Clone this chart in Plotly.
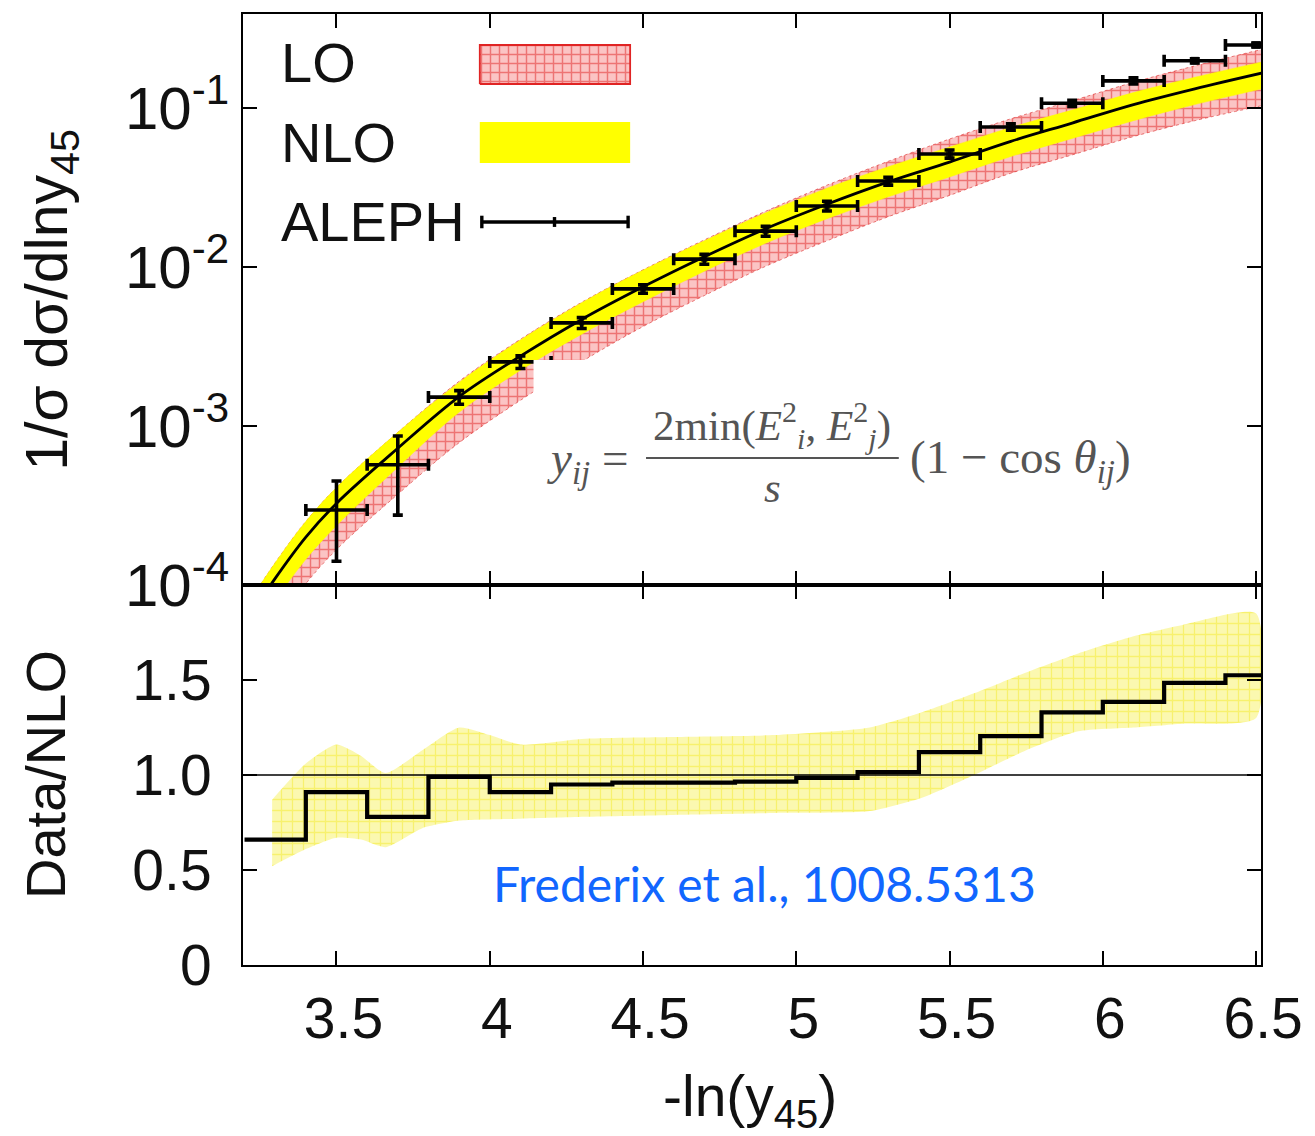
import plotly.graph_objects as go

# ---------------- data ----------------
# ALEPH data points
aleph_x = [3.5, 3.7, 3.9, 4.1, 4.3, 4.5, 4.7, 4.9, 5.1, 5.3, 5.5, 5.7, 5.9, 6.1, 6.3, 6.5]
aleph_y = [2.96e-4, 5.7e-4, 1.52e-3, 2.53e-3, 4.45e-3, 7.28e-3, 1.12e-2, 1.68e-2,
           2.42e-2, 3.47e-2, 5.14e-2, 7.6e-2, 0.107, 0.148, 0.198, 0.249]
aleph_yerr = [1.55e-4, 2.95e-4, 1.5e-4, 2.3e-4, 3.5e-4, 4.4e-4, 8e-4, 1.2e-3,
              1.7e-3, 2.0e-3, 3.0e-3, 3.4e-3, 4.7e-3, 6.6e-3, 6.0e-3, 7.0e-3]
aleph_xerr = [0.1, 0.1, 0.1, 0.1, 0.1, 0.1, 0.1, 0.1,
              0.1, 0.1, 0.1, 0.1, 0.1, 0.1, 0.1, 0.1]

# theory curves (top panel)
theory_x = [3.2, 3.3, 3.4, 3.5, 3.7, 3.9, 4.1, 4.3, 4.5, 4.7, 4.9, 5.1, 5.3, 5.5,
            5.7, 5.9, 6.1, 6.3, 6.52]
nlo_central = [5.62e-5, 1.10e-4, 2.00e-4, 3.26e-4, 7.24e-4, 1.53e-3, 2.75e-3, 4.68e-3,
               7.50e-3, 1.16e-2, 1.74e-2, 2.48e-2, 3.43e-2, 4.57e-2, 6.17e-2, 8.04e-2,
               0.105, 0.132, 0.166]
nlo_upper = [7.08e-5, 1.38e-4, 2.51e-4, 4.10e-4, 9.12e-4, 1.88e-3, 3.47e-3, 5.96e-3,
             9.55e-3, 1.46e-2, 2.19e-2, 3.13e-2, 4.27e-2, 5.68e-2, 7.55e-2, 9.70e-2,
             0.125, 0.156, 0.195]
nlo_lower = [4.07e-5, 7.94e-5, 1.45e-4, 2.36e-4, 5.50e-4, 1.22e-3, 2.24e-3, 3.78e-3,
             6.04e-3, 9.40e-3, 1.41e-2, 2.01e-2, 2.76e-2, 3.68e-2, 4.95e-2, 6.43e-2,
             8.32e-2, 0.105, 0.132]
lo_upper = [7.08e-5, 1.38e-4, 2.51e-4, 4.10e-4, 9.12e-4, 1.91e-3, 3.51e-3, 6.00e-3,
            9.59e-3, 1.48e-2, 2.24e-2, 3.27e-2, 4.62e-2, 6.38e-2, 8.55e-2, 0.111,
            0.145, 0.184, 0.234]
lo_lower = [2.88e-5, 5.62e-5, 1.02e-4, 1.67e-4, 3.72e-4, 7.85e-4, 1.45e-3, 2.54e-3,
            4.22e-3, 6.61e-3, 1.01e-2, 1.46e-2, 2.07e-2, 2.82e-2, 3.89e-2, 5.07e-2,
            6.61e-2, 8.32e-2, 0.1035]

# ratio panel: Data/NLO step histogram (bin left edges, last edge repeated)
ratio_edges = [3.2, 3.4, 3.6, 3.8, 4.0, 4.2, 4.4, 4.6, 4.8, 5.0, 5.2, 5.4, 5.6,
               5.8, 6.0, 6.2, 6.4, 6.6]
ratio_vals = [0.66, 0.91, 0.78, 0.99, 0.91, 0.95, 0.96, 0.96, 0.965, 0.985, 1.015,
              1.12, 1.205, 1.33, 1.385, 1.485, 1.525, 1.525]

# ratio panel: uncertainty band edges
band_hi_x = [3.29, 3.40, 3.50, 3.58, 3.66, 3.78, 3.90, 4.00, 4.10, 4.30, 4.60, 4.93,
             5.24, 5.41, 5.58, 5.75, 5.92, 6.10, 6.26, 6.50]
band_hi = [0.87, 1.06, 1.16, 1.10, 1.01, 1.13, 1.25, 1.21, 1.16, 1.19, 1.20, 1.21,
           1.25, 1.33, 1.43, 1.54, 1.64, 1.73, 1.79, 1.85]
band_lo_x = [3.29, 3.40, 3.50, 3.58, 3.66, 3.78, 3.90, 4.10, 4.31, 4.60, 4.93, 5.24,
             5.41, 5.58, 5.75, 5.92, 6.10, 6.26, 6.50]
band_lo = [0.52, 0.61, 0.67, 0.66, 0.62, 0.72, 0.76, 0.77, 0.78, 0.79, 0.80, 0.81,
           0.88, 1.00, 1.13, 1.23, 1.25, 1.27, 1.30]

x_ticks = [3.5, 4.0, 4.5, 5.0, 5.5, 6.0, 6.5]
x_ticktext = ["3.5", "4", "4.5", "5", "5.5", "6", "6.5"]
y_top_ticks = [1e-4, 1e-3, 1e-2, 1e-1]
y_top_ticktext = ["10<sup>-4</sup>", "10<sup>-3</sup>", "10<sup>-2</sup>", "10<sup>-1</sup>"]
y_bot_ticks = [0, 0.5, 1.0, 1.5]
y_bot_ticktext = ["0", "0.5", "1.0", "1.5"]

# ---------------- styling ----------------
FONT = "Liberation Sans, Arial, Helvetica, sans-serif"
SERIF = "Liberation Serif, DejaVu Serif, serif"
TICKFONT = dict(family=FONT, size=57, color="#111111")
marker_sizes = [0, 0, 5, 5, 5, 6, 6, 6, 7, 7, 7, 8, 8, 8, 8, 8]
LO_PATTERN = dict(shape="+", fgcolor="#e02424", bgcolor="#fbc4c4", size=9, solidity=0.3)

fig = go.Figure()

# LO band (hatched red)
fig.add_trace(go.Scatter(
    x=theory_x, y=lo_upper, mode="lines", line=dict(color="rgba(220,40,40,0.6)", width=1, dash="dot", shape="spline"),
    xaxis="x", yaxis="y", showlegend=False, hoverinfo="skip"))
fig.add_trace(go.Scatter(
    x=theory_x, y=lo_lower, mode="lines", fill="tonexty",
    fillcolor="#fbc4c4", fillpattern=LO_PATTERN,
    line=dict(color="rgba(220,40,40,0.6)", width=1, dash="dot", shape="spline"),
    xaxis="x", yaxis="y", showlegend=False, hoverinfo="skip"))

# NLO band (yellow)
fig.add_trace(go.Scatter(
    x=theory_x, y=nlo_upper, mode="lines", line=dict(color="#ffff00", width=0.5, shape="spline"),
    xaxis="x", yaxis="y", showlegend=False, hoverinfo="skip"))
fig.add_trace(go.Scatter(
    x=theory_x, y=nlo_lower, mode="lines", fill="tonexty", fillcolor="#ffff00",
    line=dict(color="#ffff00", width=0.5, shape="spline"),
    xaxis="x", yaxis="y", showlegend=False, hoverinfo="skip"))

# NLO central
fig.add_trace(go.Scatter(
    x=theory_x, y=nlo_central, mode="lines", line=dict(color="black", width=2.8, shape="spline"),
    xaxis="x", yaxis="y", showlegend=False, hoverinfo="skip"))

# ALEPH data
fig.add_trace(go.Scatter(
    x=aleph_x, y=aleph_y, mode="markers",
    marker=dict(symbol="square", size=marker_sizes, color="black", line=dict(width=0)),
    error_y=dict(type="data", array=aleph_yerr, color="black", thickness=3.6, width=5),
    error_x=dict(type="data", array=aleph_xerr, color="black", thickness=3.6, width=6),
    xaxis="x", yaxis="y", showlegend=False))

# ratio band
fig.add_trace(go.Scatter(
    x=band_hi_x + band_lo_x[::-1], y=band_hi + band_lo[::-1], mode="lines", fill="toself",
    fillcolor="#fbf7a8",
    fillpattern=dict(shape="+", fgcolor="#f3ea2c", bgcolor="#fbf8b0", size=11, solidity=0.22),
    line=dict(width=0, color="rgba(0,0,0,0)", shape="spline", smoothing=0.6),
    xaxis="x2", yaxis="y2", showlegend=False, hoverinfo="skip"))

# ratio step line
fig.add_trace(go.Scatter(
    x=ratio_edges, y=ratio_vals, mode="lines", line=dict(color="black", width=4.2, shape="hv"),
    xaxis="x2", yaxis="y2", showlegend=False))

# legend glyph for LO (patterned box) on an auxiliary paper-like axis
fig.add_trace(go.Scatter(
    x=[0.2326, 0.3803, 0.3803, 0.2326, 0.2326], y=[0.9264, 0.9264, 0.9674, 0.9674, 0.9264],
    mode="lines", fill="toself", fillcolor="#fbc4c4", fillpattern=LO_PATTERN,
    line=dict(color="#e02424", width=1.8),
    xaxis="x3", yaxis="y3", showlegend=False, hoverinfo="skip"))

axis_common = dict(showline=True, linecolor="black", linewidth=2, mirror="ticks",
                   ticks="inside", ticklen=14, tickwidth=2, tickcolor="black",
                   showgrid=False, zeroline=False)

split = 380 / 951

fig.update_layout(
    width=1315, height=1136,
    margin=dict(l=243, r=49, t=14, b=171),
    paper_bgcolor="white", plot_bgcolor="rgba(0,0,0,0)",
    showlegend=False,
    xaxis=dict(domain=[0, 1], range=[3.195, 6.516], anchor="y", tickvals=x_ticks,
               showticklabels=False, **axis_common),
    yaxis=dict(domain=[split, 1], type="log", range=[-4, -0.409], anchor="x",
               tickvals=y_top_ticks, ticktext=y_top_ticktext,
               tickfont=dict(family=FONT, size=60, color="#111111"),
               ticklabelstandoff=0, **axis_common),
    xaxis2=dict(domain=[0, 1], range=[3.195, 6.516], anchor="y2", tickvals=x_ticks,
                ticktext=x_ticktext, tickfont=TICKFONT, ticklabelstandoff=3,
                ticklabelshift=7, **axis_common),
    yaxis2=dict(domain=[0, split], range=[0, 2], anchor="x2", tickvals=y_bot_ticks,
                ticktext=y_bot_ticktext, tickfont=TICKFONT, ticklabelstandoff=18,
                **axis_common),
    xaxis3=dict(domain=[0, 1], range=[0, 1], anchor="y3", visible=False, fixedrange=True),
    yaxis3=dict(domain=[0, 1], range=[0, 1], anchor="x3", visible=False, fixedrange=True),
)

shapes = []
# line at ratio 1
shapes.append(dict(type="line", xref="x2 domain", yref="y2", x0=0, x1=1, y0=1.0, y1=1.0,
                   line=dict(color="black", width=1.6), layer="above"))
# white box behind the formula
shapes.append(dict(type="rect", xref="paper", yref="paper", x0=0.2854, x1=0.8866, y0=0.4574, y1=0.6362,
                   fillcolor="white", line=dict(width=0), layer="above"))
# fraction bar
shapes.append(dict(type="line", xref="paper", yref="paper", x0=0.3959, x1=0.6442, y0=0.5331, y1=0.5331,
                   line=dict(color="#555555", width=2), layer="above"))
# NLO legend box
shapes.append(dict(type="rect", xref="paper", yref="paper", x0=0.2326, x1=0.3803, y0=0.8433, y1=0.8864,
                   fillcolor="#ffff00", line=dict(width=0), layer="above"))
# ALEPH legend glyph
shapes.append(dict(type="line", xref="paper", yref="paper", x0=0.2346, x1=0.3783, y0=0.7813, y1=0.7813,
                   line=dict(color="black", width=3.4), layer="above"))
for xc, h in [(0.2346, 0.0066), (0.3060, 0.0052), (0.3783, 0.0066)]:
    shapes.append(dict(type="line", xref="paper", yref="paper", x0=xc, x1=xc, y0=0.7813 - h, y1=0.7813 + h,
                       line=dict(color="black", width=3.4), layer="above"))
fig.update_layout(shapes=shapes)

ann = []
legend_font = dict(family=FONT, size=56, color="#111111")
for txt, yy in [("LO", 0.9485), ("NLO", 0.8654), ("ALEPH", 0.7813)]:
    ann.append(dict(text=txt, xref="paper", yref="paper", x=0.0352, y=yy, xanchor="left",
                    yanchor="middle", showarrow=False, font=legend_font))
formula_font = dict(family=SERIF, size=43, color="#555555")
ann.append(dict(text="<i>y</i><sub><i>ij</i></sub> =", xref="paper", yref="paper", x=0.3800, y=0.5290,
                xanchor="right", yanchor="middle", showarrow=False, font=dict(family=SERIF, size=47, color="#555555")))
ann.append(dict(text="2min(<i>E</i><sup>2</sup><sub><i>i</i></sub>, <i>E</i><sup>2</sup><sub><i>j</i></sub>)",
                xref="paper", yref="paper", x=0.5200, y=0.5672, xanchor="center", yanchor="middle",
                showarrow=False, font=formula_font))
ann.append(dict(text="<i>s</i>", xref="paper", yref="paper", x=0.5200, y=0.5016, xanchor="center",
                yanchor="middle", showarrow=False, font=formula_font))
ann.append(dict(text="(1 \u2212 cos <i>\u03b8</i><sub><i>ij</i></sub>)", xref="paper", yref="paper",
                x=0.6530, y=0.5300, xanchor="left", yanchor="middle", showarrow=False,
                font=dict(family=SERIF, size=47, color="#555555")))
ann.append(dict(text="Frederix et al., 1008.5313", xref="paper", yref="paper", x=0.5122, y=0.0862,
                xanchor="center", yanchor="middle", showarrow=False,
                font=dict(family="Lato, Open Sans, sans-serif", size=48, color="#1166ff")))
# axis titles
ann.append(dict(text="-ln(y<sub>45</sub>)", xref="paper", yref="paper", x=0.4976, y=-0.142,
                xanchor="center", yanchor="middle", showarrow=False, font=dict(family=FONT, size=57, color="#111111")))
ann.append(dict(text="1/\u03c3 d\u03c3/dlny<sub>45</sub>", xref="paper", yref="paper", x=-0.1887, y=0.6993,
                xanchor="center", yanchor="middle", textangle=-90, showarrow=False,
                font=dict(family=FONT, size=59, color="#111111")))
ann.append(dict(text="Data/NLO", xref="paper", yref="paper", x=-0.1935, y=0.1998,
                xanchor="center", yanchor="middle", textangle=-90, showarrow=False,
                font=dict(family=FONT, size=56, color="#111111")))
fig.update_layout(annotations=ann)

fig.write_html("out.html")
